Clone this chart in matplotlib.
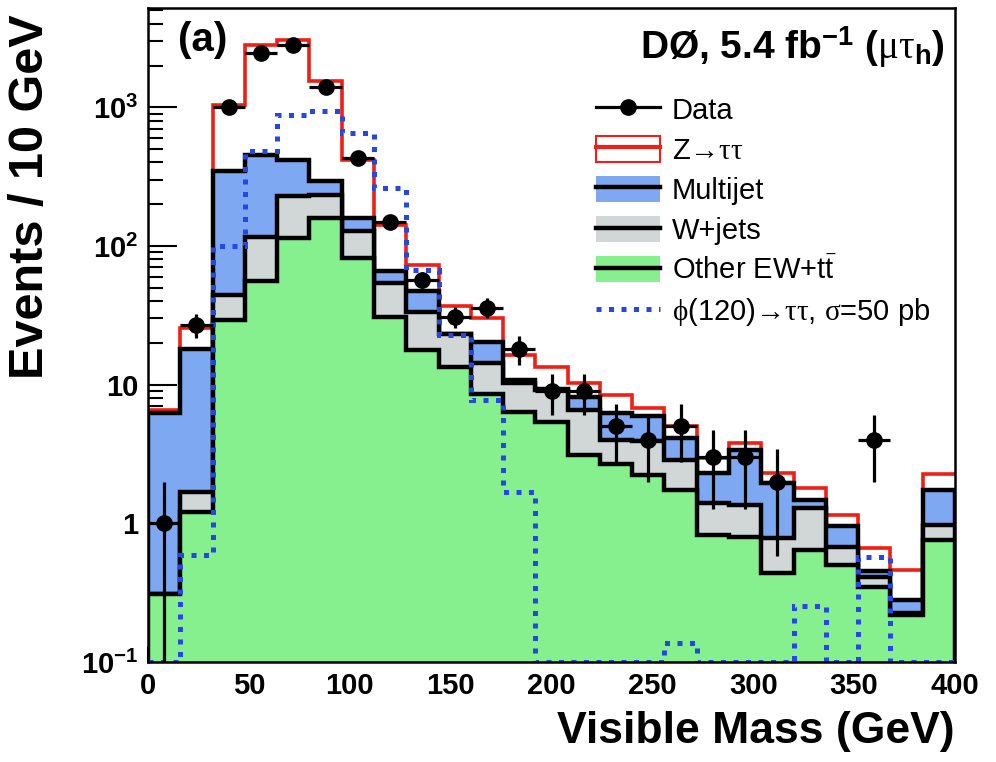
import numpy as np
import matplotlib
matplotlib.use("Agg")
import matplotlib.pyplot as plt
from matplotlib.patches import Patch
from matplotlib.lines import Line2D
from matplotlib.ticker import MultipleLocator, NullFormatter, LogLocator

plt.rcParams['font.family'] = 'Liberation Sans'
plt.rcParams['mathtext.fontset'] = 'custom'
plt.rcParams['mathtext.rm'] = 'Liberation Serif'
plt.rcParams['mathtext.it'] = 'Liberation Serif:italic'
plt.rcParams['mathtext.bf'] = 'Liberation Sans:bold'
plt.rcParams['mathtext.sf'] = 'Liberation Sans'

# visible mass, 16 GeV bins from 0 to 400
binEdges = np.arange(0, 401, 16)

data = [1, 27, 1000, 2460, 2810, 1400, 430, 150, 57, 31, 36, 18, 9, 9, 5, 4, 5, 3, 3, 2, 0, 0, 4, 0, 0]

otherEW = [0.31, 1.21, 29.4, 55.6, 114, 160, 82, 31, 17.8, 13.5, 8.5, 6.4, 5.4, 3.1, 2.7, 2.23, 1.74,
           0.82, 0.80, 0.44, 0.64, 0.50, 0.35, 0.22, 0.76]
wjets = [0, 0.48, 15.1, 61.4, 114, 75, 46, 23, 15.7, 9.5, 5.8, 3.8, 3.7, 3.5, 1.3, 1.67, 1.13,
         0.57, 0.56, 0.34, 0.66, 0.18, 0.06, 0.004, 0.21]
multijet = [5.89, 16.41, 305.5, 339, 187, 61, 31, 12, 13.5, 0.3, 6.1, 0.6, 0.2, 1.6, 2.2, 2.0, 1.23,
            0.91, 2.02, 1.17, 0.17, 0.27, 0.04, 0.056, 0.77]
ztautau = [0.4, 7.5, 693, 2334, 2620, 1254, 258, 76, 26, 13.9, 9.8, 5.6, 4.2, 2.0, 2.25, 0.9, 0.9,
           0.65, 0.4, 0.35, 0.32, 0.2, 0.21, 0.18, 0.51]

signal = [0, 0.59, 100, 481, 880, 935, 650, 262, 67, 22.9, 7.8, 1.69, 0, 0, 0, 0, 0.136,
          0, 0, 0, 0.255, 0, 0.575, 0, 0]

greenColor = '#86f08e'
greyColor = '#d1d6d6'
blueColor = '#7fa8f2'
redColor = '#f01e14'
sigColor = '#2447e6'

yMin, yMax = 0.1, 5200

fig = plt.figure(figsize=(9.96, 7.62), dpi=100)
ax = fig.add_axes([148 / 996, 100 / 762, 807 / 996, 654 / 762])
ax.set_yscale('log')

# stack: other EW at bottom, then W+jets, multijet, Z->tautau on top
cumOther = np.array(otherEW)
cumW = cumOther + np.array(wjets)
cumMJ = cumW + np.array(multijet)
cumTotal = cumMJ + np.array(ztautau)

ax.stairs(cumTotal, binEdges, baseline=None, color=redColor, lw=2.6, zorder=2)

z = 3
for heights, col in [(cumMJ, blueColor), (cumW, greyColor), (cumOther, greenColor)]:
    ax.stairs(heights, binEdges, baseline=1e-3, fill=True, color=col, lw=0, zorder=z)
    ax.stairs(heights, binEdges, baseline=1e-3, color='black', lw=3.2, zorder=z + 0.5)
    z += 1

# empty signal bins are drawn on the bottom of the frame
ax.stairs(np.clip(signal, yMin, None), binEdges, baseline=None, color=sigColor, lw=3.6,
          linestyle=(0, (1, 1.5)), zorder=8)

# data with poisson errors
centers = 0.5 * (binEdges[:-1] + binEdges[1:])
dataArr = np.array(data, dtype=float)
keep = dataArr > 0
err = np.sqrt(dataArr[keep])
errLow = np.minimum(err, dataArr[keep] - 1e-3)
ax.errorbar(centers[keep], dataArr[keep], xerr=8, yerr=[errLow, err], fmt='o', color='black',
            ms=11, elinewidth=2.3, capsize=0, zorder=10)

ax.set_xlim(0, 400)
ax.set_ylim(yMin, yMax)

ax.xaxis.set_major_locator(MultipleLocator(50))
ax.xaxis.set_minor_locator(MultipleLocator(10))
ax.set_yticks([0.1, 1, 10, 100, 1000])
ax.set_yticklabels([r'$\mathbf{10^{-1}}$', '1', '10', r'$\mathbf{10^{2}}$', r'$\mathbf{10^{3}}$'])
ax.yaxis.set_minor_locator(LogLocator(base=10, subs=np.arange(2, 10)))
ax.yaxis.set_minor_formatter(NullFormatter())

ax.tick_params(axis='both', which='both', direction='in', top=False, right=False,
               labelsize=21, width=1.5, pad=7)
ax.tick_params(axis='x', which='major', length=11)
ax.tick_params(axis='x', which='minor', length=5)
ax.tick_params(axis='y', which='major', length=21)
ax.tick_params(axis='y', which='minor', length=10.5)
for lab in ax.get_xticklabels() + ax.get_yticklabels():
    lab.set_fontweight('bold')
for sp in ax.spines.values():
    sp.set_linewidth(1.8)
    sp.set_zorder(12)

ax.set_xlabel('Visible Mass (GeV)', fontsize=32, fontweight='bold', loc='right')
ax.xaxis.set_label_coords(1.0, -0.075)
ax.set_ylabel('Events / 10 GeV', fontsize=35, fontweight='bold', loc='top')
ax.yaxis.set_label_coords(-0.118, 0.99)

ax.text(0.037, 0.98, '(a)', transform=ax.transAxes, fontsize=29, fontweight='bold',
        ha='left', va='top', zorder=13)
ax.text(0.988, 0.974, r'DØ, 5.4 fb$^{\mathbf{-1}}$ ($\mathrm{\mu\tau}_{\mathbf{h}}$)',
        transform=ax.transAxes, fontsize=28, fontweight='bold', ha='right', va='top', zorder=13)

handles = [
    Line2D([], [], color='black', marker='o', ms=11, lw=2.3),
    (Patch(facecolor='white', edgecolor=redColor, lw=1.5), Line2D([], [], color=redColor, lw=3)),
    (Patch(facecolor=blueColor, edgecolor='none'), Line2D([], [], color='black', lw=3.2)),
    (Patch(facecolor=greyColor, edgecolor='none'), Line2D([], [], color='black', lw=3.2)),
    (Patch(facecolor=greenColor, edgecolor='none'), Line2D([], [], color='black', lw=3.2)),
    Line2D([], [], color=sigColor, lw=3.6, linestyle=(0, (1, 1.5))),
]
labels = ['Data', r'Z→$\mathrm{\tau\tau}$', 'Multijet', 'W+jets',
          r'Other EW+t$\bar{\mathsf{t}}$',
          r'$\mathrm{\phi}$(120)→$\mathrm{\tau\tau}$, $\mathrm{\sigma}$=50 pb']
ax.legend(handles, labels, loc='upper left', bbox_to_anchor=(0.555, 0.866), frameon=False,
          fontsize=21, handlelength=2.2, handleheight=1.0, handletextpad=0.4,
          labelspacing=0.38, borderpad=0, borderaxespad=0)

fig.savefig('out.png', dpi=100)
